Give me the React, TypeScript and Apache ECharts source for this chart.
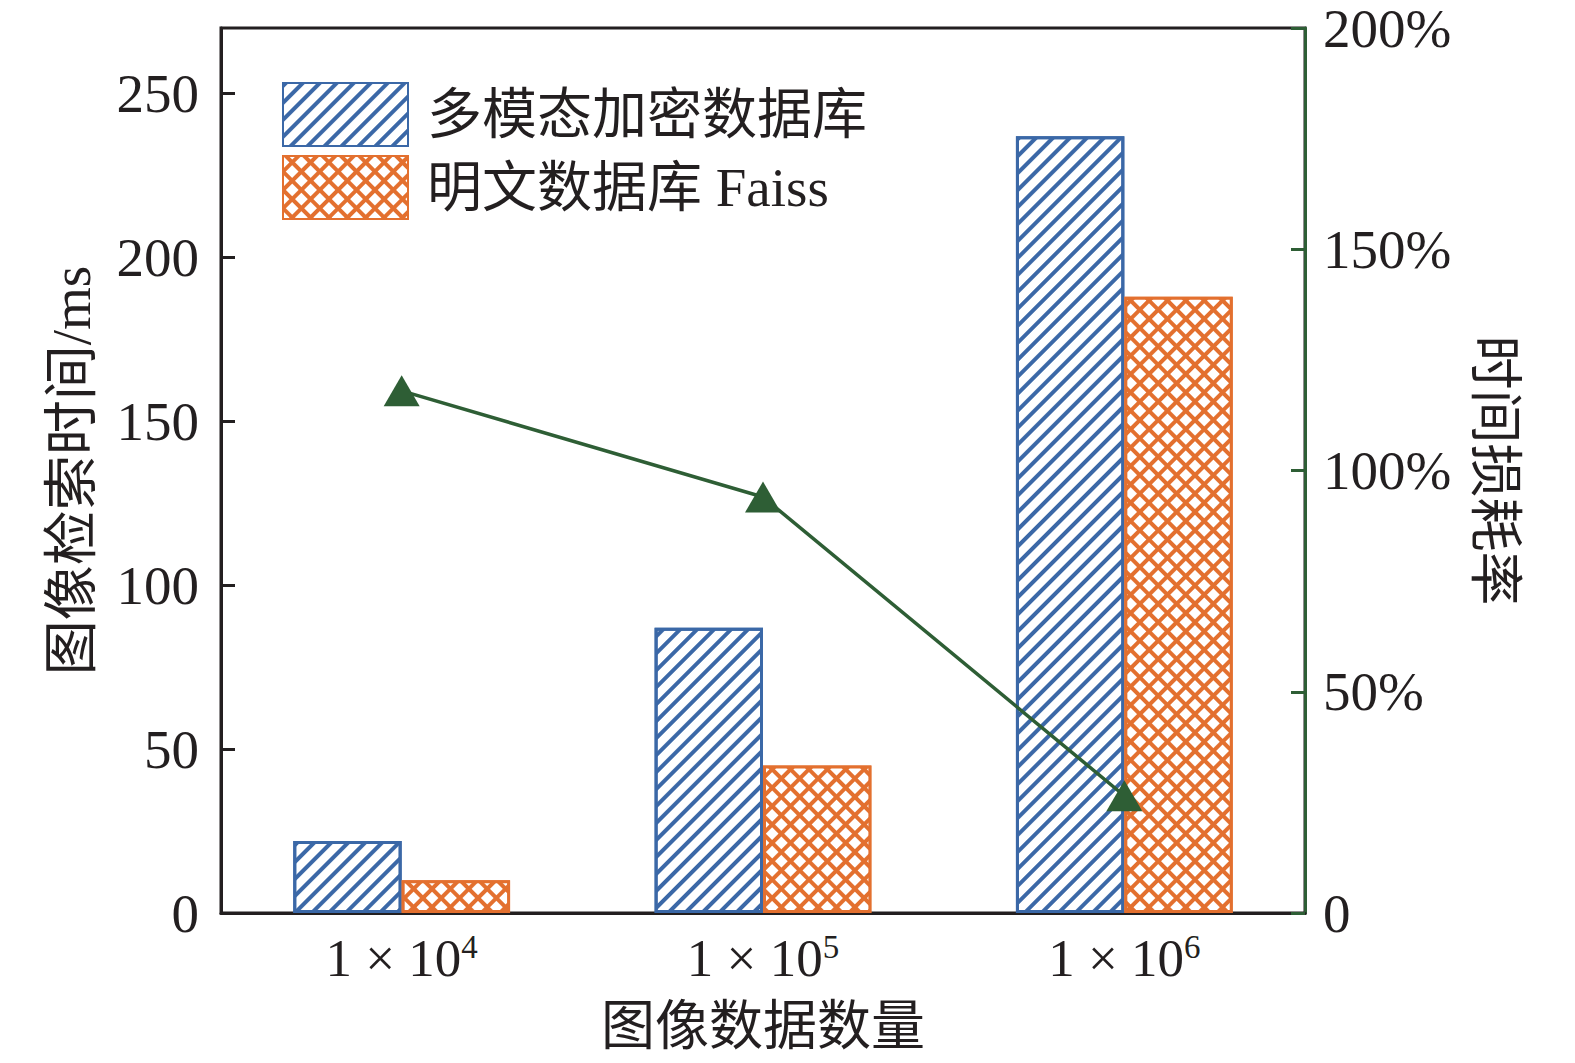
import React, { useEffect, useRef } from "react";
import * as echarts from "echarts";

const categoryBases = ["1 × 10", "1 × 10", "1 × 10"];
const categoryExps = ["4", "5", "6"];
const categories = ["1 × 10^4", "1 × 10^5", "1 × 10^6"];
const encryptedDb = [22, 87, 237];
const plainFaiss = [10, 45, 188];
const lossRate = [118, 94, 26.5];
const leftTicks = [0, 50, 100, 150, 200, 250];
const rightTicks = [0, 50, 100, 150, 200];

const seriesNames = ["多模态加密数据库", "明文数据库 Faiss", "时间损耗率"];

const BLUE = "#3b68a7";
const ORANGE = "#e3702f";
const GREEN = "#2e5e35";
const INK = "#231f20";
const FONT = "'Liberation Serif', 'Times New Roman', 'Noto Sans CJK SC', serif";

export default function App() {
  const ref = useRef<HTMLDivElement>(null);
  useEffect(() => {
    if (!ref.current) return;
    const chart = echarts.init(ref.current, undefined, { renderer: "svg" });
    const w = chart.getWidth();
    const h = chart.getHeight();
    chart.setOption({
      animation: false,
      backgroundColor: "#fff",
      textStyle: { fontFamily: FONT, color: INK },
      grid: {
        left: 221,
        right: w - 1305,
        top: 28,
        bottom: h - 913,
        show: true,
        borderColor: INK,
        borderWidth: 3,
        containLabel: false,
      },
      legend: {
        orient: "vertical",
        left: 277,
        top: 77,
        icon: "rect",
        itemWidth: 125,
        itemHeight: 63,
        itemGap: 8,
        data: [seriesNames[0], seriesNames[1]],
        textStyle: {
          fontFamily: FONT,
          fontSize: 55,
          color: INK,
          padding: [0, 0, 0, 14],
        },
      },
      xAxis: {
        type: "category",
        data: categories,
        axisLine: { lineStyle: { color: INK, width: 3 } },
        axisTick: {
          inside: true,
          alignWithLabel: true,
          length: 14,
          lineStyle: { color: INK, width: 3 },
        },
        axisLabel: {
          margin: 17,
          formatter: (_v: string, i: number) =>
            `{n|${categoryBases[i]}}{s|${categoryExps[i]}}`,
          rich: {
            n: { fontFamily: FONT, fontSize: 53, color: INK, lineHeight: 56 },
            s: {
              fontFamily: FONT,
              fontSize: 33,
              color: INK,
              lineHeight: 30,
              verticalAlign: "top",
            },
          },
        },
        name: "图像数据数量",
        nameLocation: "middle",
        nameGap: 87,
        nameTextStyle: { fontFamily: FONT, fontSize: 54, color: INK },
      },
      yAxis: [
        {
          type: "value",
          min: 0,
          max: 270,
          interval: 50,
          axisLine: { show: true, lineStyle: { color: INK, width: 3 } },
          axisTick: {
            show: true,
            inside: true,
            length: 14,
            lineStyle: { color: INK, width: 3 },
          },
          splitLine: { show: false },
          axisLabel: {
            fontFamily: FONT,
            fontSize: 55,
            lineHeight: 54,
            color: INK,
            margin: 22,
            showMaxLabel: false,
            formatter: (v: number) => (leftTicks.includes(v) ? String(v) : ""),
          },
          name: "图像检索时间/ms",
          nameLocation: "middle",
          nameGap: 122,
          nameRotate: 90,
          nameTextStyle: { fontFamily: FONT, fontSize: 55, color: INK },
        },
        {
          type: "value",
          min: 0,
          max: 200,
          interval: 50,
          position: "right",
          axisLine: { show: true, lineStyle: { color: GREEN, width: 3 } },
          axisTick: {
            show: true,
            inside: true,
            length: 14,
            lineStyle: { color: GREEN, width: 3 },
          },
          splitLine: { show: false },
          axisLabel: {
            fontFamily: FONT,
            fontSize: 55,
            lineHeight: 52,
            color: INK,
            margin: 18,
            formatter: (v: number) =>
              rightTicks.includes(v) ? (v === 0 ? "0" : `${v}%`) : "",
          },
          name: "时间损耗率",
          nameLocation: "middle",
          nameGap: 162,
          nameRotate: -90,
          nameTextStyle: { fontFamily: FONT, fontSize: 54, color: INK },
        },
      ],
      series: [
        {
          name: seriesNames[0],
          type: "bar",
          data: encryptedDb,
          barWidth: "30%",
          barGap: "0%",
          itemStyle: {
            color: "#ffffff",
            borderColor: BLUE,
            borderWidth: 3,
            decal: {
              symbol: "rect",
              symbolSize: 1,
              color: BLUE,
              dashArrayX: [1, 0],
              dashArrayY: [3.4, 8],
              rotation: -Math.PI / 4,
            },
          },
        },
        {
          name: seriesNames[1],
          type: "bar",
          data: plainFaiss,
          barWidth: "30%",
          barGap: "0%",
          itemStyle: {
            color: ORANGE,
            borderColor: ORANGE,
            borderWidth: 3,
            decal: {
              symbol: "rect",
              symbolSize: 1,
              color: "#ffffff",
              dashArrayX: [9, 3.5],
              dashArrayY: [9, 3.5],
              rotation: Math.PI / 4,
            },
          },
        },
        {
          name: seriesNames[2],
          type: "line",
          yAxisIndex: 1,
          data: lossRate,
          symbol: "triangle",
          symbolSize: [36, 31],
          itemStyle: { color: GREEN },
          lineStyle: { color: GREEN, width: 3.5 },
          z: 5,
        },
      ],
    });
    return () => chart.dispose();
  }, []);
  return (
    <div
      ref={ref}
      style={{ width: 1575, height: 1063, position: "absolute", left: 0, top: 0 }}
    />
  );
}
